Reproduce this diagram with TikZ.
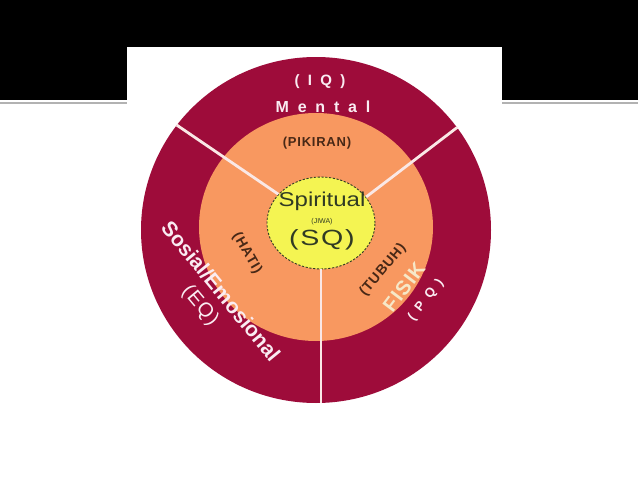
\documentclass[tikz,border=0pt]{standalone}
\usepackage{fontspec}
\usepackage{tikz}
\usetikzlibrary{shapes.geometric}
\setmainfont{Liberation Sans}
\newfontfamily\airfont[LetterSpace=55]{Liberation Sans}
\newfontfamily\tightfont[LetterSpace=6]{Liberation Sans}
\definecolor{ringred}{RGB}{158,12,58}
\definecolor{ringorange}{RGB}{248,152,96}
\definecolor{coreyellow}{RGB}{244,244,82}
\definecolor{inkbrown}{RGB}{72,40,22}
\definecolor{inkolive}{RGB}{48,58,36}
\definecolor{paleink}{RGB}{250,236,242}
\definecolor{creamink}{RGB}{246,232,200}
\definecolor{spokecol}{RGB}{250,232,230}
\tikzset{
  ring/.style={ellipse,inner sep=0pt},
  spoke/.style={spokecol,line width=2.8pt},
  darklabel/.style={inkbrown,font=\tightfont\bfseries\fontsize{14}{14}\selectfont},
  palelabel/.style={paleink,font=\bfseries}
}
\begin{document}
\begin{tikzpicture}[x=1pt,y=-1pt]
  \useasboundingbox (0,0) rectangle (638,479);
  \fill[black] (0,0) rectangle (638,100);
  \fill[black!30] (0,102) rectangle (638,104);
  \fill[white] (127,47) rectangle (502,479);
  \node[ring,fill=ringred,minimum width=350pt,minimum height=346pt] (outer) at (316,230) {};
  \node[ring,fill=ringorange,minimum width=234pt,minimum height=228pt] (middle) at (316,227) {};
  \node[ring,fill=coreyellow,draw=inkolive,dashed,dash pattern=on 2.2pt off 1.6pt,line width=0.9pt,
        minimum width=108pt,minimum height=92pt] (core) at (321,223) {};
  \draw[spoke] (core.146) -- (outer.143);
  \draw[spoke] (core.30) -- (outer.36);
  \draw[spoke] (core.south) -- (core.south |- outer.south);
  % labels
  \node[palelabel,font=\airfont\bfseries\fontsize{15}{15}\selectfont] (iq) at (320,82) {(IQ)};
  \node[palelabel,font=\airfont\bfseries\fontsize{16}{16}\selectfont] (mental) at (323,107) {Mental};
  \node[darklabel,font=\tightfont\bfseries\fontsize{13}{13}\selectfont] (pikiran) at (317,143) {(PIKIRAN)};
  \node[inkolive,font=\fontsize{20}{20}\selectfont,xscale=1.2] (spiritual) at (322,201) {Spiritual};
  \node[inkolive,font=\fontsize{7}{7}\selectfont] (jiwa) at (322,222) {(JIWA)};
  \node[inkolive,font=\tightfont\fontsize{22}{22}\selectfont,xscale=1.3] (sq) at (322,240) {(SQ)};
  \node[darklabel,rotate=-60] (hati) at (247,253) {(HATI)};
  \node[darklabel,rotate=50] (tubuh) at (383,270) {(TUBUH)};
  \node[creamink,font=\tightfont\bfseries\fontsize{20}{20}\selectfont,rotate=53] (fisik) at (404,287) {FISIK};
  \node[paleink,font=\airfont\bfseries\fontsize{13}{13}\selectfont,rotate=52] (pq) at (426,300) {(PQ)};
  \node[palelabel,font=\bfseries\fontsize{21}{21}\selectfont,rotate=-50.7] (sosial) at (221,291) {Sosial/Emosional};
  \node[paleink,font=\tightfont\fontsize{20}{20}\selectfont,rotate=-50] (eq) at (200,306) {(EQ)};
\end{tikzpicture}
\end{document}
